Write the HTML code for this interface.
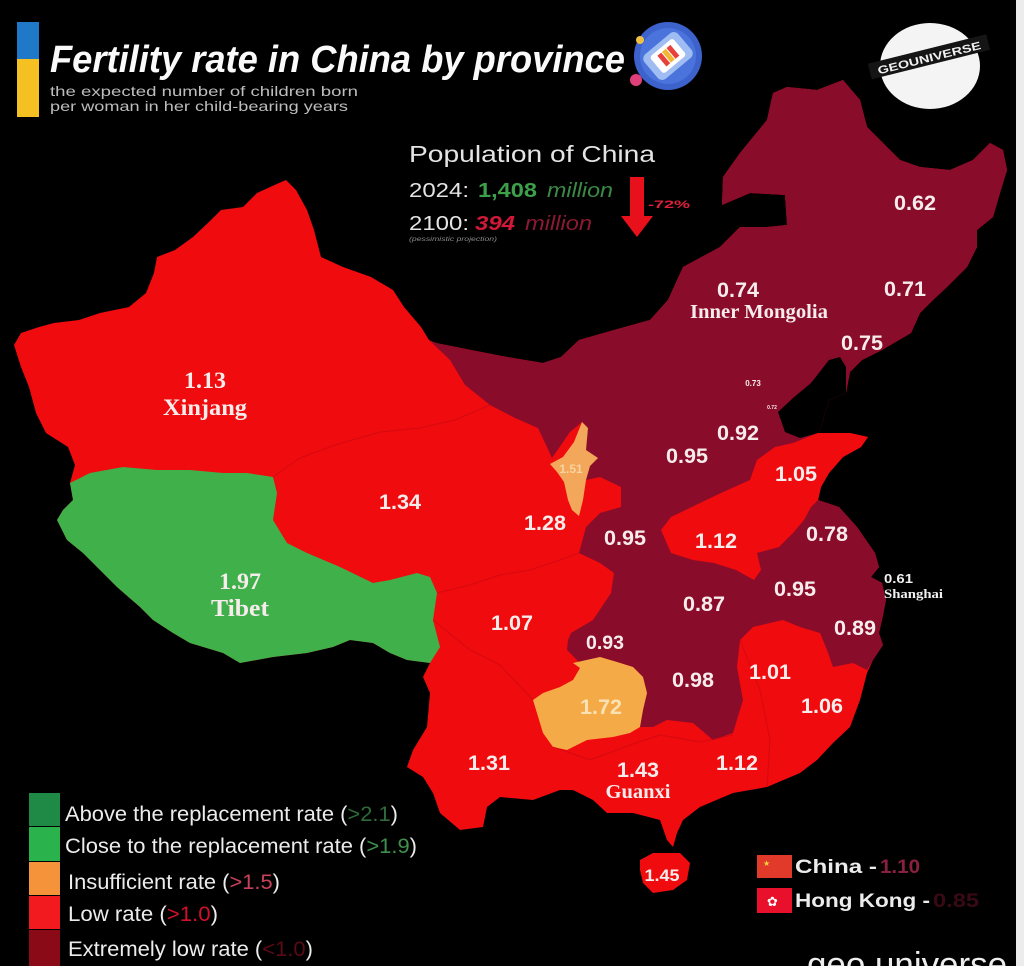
<!DOCTYPE html>
<html><head><meta charset="utf-8"><style>
html,body{margin:0;padding:0;background:#000;}
svg{display:block;}
.n{font-family:"Liberation Sans",Arial,sans-serif;font-weight:bold;fill:#f6ecec;text-anchor:middle;}
.s{font-family:"Liberation Serif",serif;font-weight:bold;fill:#f6ecec;text-anchor:middle;}
.lg{font-family:"Liberation Sans",Arial,sans-serif;fill:#ececec;}
</style></head><body>
<svg width="1024" height="966" viewBox="0 0 1024 966" xmlns="http://www.w3.org/2000/svg">
<rect x="0" y="0" width="1024" height="966" fill="#000"/>
<rect x="1016" y="0" width="8" height="966" fill="#ececec"/>

<!-- China outline (red base) -->
<polygon fill="#f00b0e" points="14,345 21,333 39,327 54,323 79,320 100,313 129,307 146,293 154,273 157,257 175,250 193,237 211,220 221,210 243,207 257,193 279,183 286,180 296,190 307,210 314,230 321,257 343,267 371,277 393,290 404,307 421,327 429,340 436,343 471,350 507,357 543,363 561,357 579,340 614,330 650,320 668,300 683,267 720,247 740,227 767,227 787,225 785,195 750,193 722,205 723,177 740,153 767,120 773,93 787,87 817,90 843,80 860,100 867,127 883,143 900,160 920,167 950,170 973,160 990,143 1003,150 1007,170 1000,193 993,217 977,230 977,247 967,267 947,287 933,300 920,313 911,333 882,350 862,360 850,372 846,393 829,400 821,427 818,433 850,433 868,437 861,447 843,457 829,473 821,487 818,500 839,507 857,527 875,553 879,567 871,577 882,583 886,600 882,620 879,633 883,645 873,660 867,673 860,700 850,727 833,743 817,760 800,773 767,787 733,793 700,807 683,820 677,833 673,847 667,840 660,820 633,813 607,813 593,800 573,790 560,790 533,800 500,797 487,807 483,827 460,830 440,813 433,793 423,777 407,767 413,750 427,727 430,693 423,677 430,663 407,660 390,653 373,643 350,640 333,647 307,653 273,657 240,663 223,653 190,643 173,633 153,620 140,607 117,587 100,570 83,553 67,540 57,520 63,510 73,500 70,483 75,465 68,447 46,433 36,413 29,387 21,367"/>

<!-- dark red region -->
<polygon fill="#8a0c2b" points="429,340 436,343 471,350 507,357 543,363 561,357 579,340 614,330 650,320 668,300 683,267 720,247 740,227 767,227 787,225 785,195 750,193 722,205 723,177 740,153 767,120 773,93 787,87 817,90 843,80 860,100 867,127 883,143 900,160 920,167 950,170 973,160 990,143 1003,150 1007,170 1000,193 993,217 977,230 977,247 967,267 947,287 933,300 920,313 911,333 882,350 862,360 850,372 846,393 829,400 821,427 818,433 850,433 868,437 861,447 843,457 829,473 821,487 818,500 839,507 857,527 875,553 879,567 871,577 882,583 886,600 882,620 879,633 883,645 873,660 867,670 853,663 833,667 827,650 820,633 800,627 783,620 753,627 740,640 737,667 743,700 733,733 713,740 693,723 667,720 653,727 640,727 643,710 647,693 643,677 633,667 617,662 600,657 580,663 567,650 568,640 571,633 593,620 611,593 614,573 600,563 579,553 586,527 600,513 621,507 621,487 600,477 586,480 586,450 587,427 582,422 570,432 552,458 546,445 538,428 515,418 490,405 465,385 450,360"/>

<!-- Henan + Shandong red -->
<polygon fill="#f00b0e" points="818,433 850,433 868,437 861,447 843,457 829,473 821,487 818,500 811,507 804,520 793,533 779,547 757,553 761,570 754,580 736,570 714,563 693,560 671,553 661,530 671,517 700,503 721,493 750,480 757,460 775,447 793,443"/>

<!-- Bohai sea -->
<polygon fill="#000" points="778,412 793,398 811,383 829,360 840,357 846,367 846,393 829,400 821,427 818,433 800,438 785,432"/>

<!-- Tibet green -->
<polygon fill="#3fb04a" points="70,483 90,473 123,467 157,470 190,470 223,473 247,473 273,477 277,493 273,520 287,543 307,553 340,567 373,583 390,580 417,573 430,577 437,593 433,620 440,647 430,663 407,660 390,653 373,643 350,640 333,647 307,653 273,657 240,663 223,653 190,643 173,633 153,620 140,607 117,587 100,570 83,553 67,540 57,520 63,510 73,500"/>

<!-- Ningxia orange -->
<polygon fill="#f3a75a" points="582,422 588,428 586,450 598,458 590,466 586,480 583,500 579,516 572,510 568,500 564,482 557,472 550,464 563,457 574,442"/>
<!-- Guizhou orange -->
<polygon fill="#f5aa48" points="573,663 600,657 617,662 633,667 643,677 647,693 643,710 640,727 630,733 613,737 587,740 567,750 553,747 543,733 533,700 543,693 560,687 573,680 580,668"/>

<!-- Hainan -->
<polygon fill="#f00b0e" points="640,860 653,853 680,853 690,863 687,880 673,890 653,893 643,883 640,870"/>

<!-- faint internal borders -->
<g fill="none" stroke="#c20a12" stroke-width="1" opacity="0.6">
<polyline points="273,477 300,458 335,445 380,432 420,428 455,420 490,405"/>
<polyline points="437,593 470,585 500,575 530,570 560,560 579,553"/>
<polyline points="433,620 470,650 500,665 533,700"/>
<polyline points="553,747 590,760 630,745 660,735 700,742 733,735"/>
<polyline points="740,640 760,690 770,740 767,787"/>
</g>

<!-- Title -->
<rect x="17" y="22" width="22" height="37" fill="#1f78c8"/>
<rect x="17" y="59" width="22" height="58" fill="#f5c021"/>
<text x="50" y="72" font-family="Liberation Sans, sans-serif" font-weight="bold" font-style="italic" font-size="38" fill="#fafafa" textLength="575" lengthAdjust="spacingAndGlyphs">Fertility rate in China by province</text>
<text x="50" y="96" class="lg" font-size="14" fill="#bdbdbd" textLength="308" lengthAdjust="spacingAndGlyphs" style="fill:#bdbdbd">the expected number of children born</text>
<text x="50" y="111" class="lg" font-size="14" textLength="298" lengthAdjust="spacingAndGlyphs" style="fill:#bdbdbd">per woman in her child-bearing years</text>

<!-- title icon -->
<circle cx="668" cy="56" r="34" fill="#3d62cc"/>
<circle cx="668" cy="56" r="28" fill="#4a74dc"/>
<g transform="rotate(-40 668 56)">
<rect x="646" y="40" width="44" height="32" rx="6" fill="#9fbdf2"/>
<rect x="653" y="45" width="30" height="22" rx="3" fill="#ffffff"/>
<rect x="660" y="49" width="5" height="14" fill="#e8403a"/>
<rect x="666" y="49" width="5" height="14" fill="#f3b830"/>
<rect x="672" y="49" width="5" height="14" fill="#e8403a"/>
</g>
<circle cx="636" cy="80" r="6" fill="#e0407a"/>
<circle cx="640" cy="40" r="4" fill="#f0c040"/>

<!-- logo -->
<ellipse cx="930" cy="66" rx="50" ry="43" fill="#f4f4f4"/>
<g transform="rotate(-14 928 57)">
<rect x="868" y="49" width="122" height="16" fill="#151515"/>
<text x="929" y="62" font-family="Liberation Sans, sans-serif" font-weight="bold" font-size="11" fill="#f0f0f0" text-anchor="middle" textLength="106" lengthAdjust="spacingAndGlyphs">GEOUNIVERSE</text>
</g>

<!-- population -->
<text x="409" y="162" class="lg" font-size="23" style="fill:#e4e4e4" textLength="246" lengthAdjust="spacingAndGlyphs">Population of China</text>
<text x="409" y="197" class="lg" font-size="20" style="fill:#e4e4e4" textLength="60" lengthAdjust="spacingAndGlyphs">2024:</text>
<text x="478" y="197" font-family="Liberation Sans, sans-serif" font-weight="bold" font-size="20" fill="#3ca04a" textLength="59" lengthAdjust="spacingAndGlyphs">1,408</text>
<text x="547" y="197" font-family="Liberation Sans, sans-serif" font-style="italic" font-size="20" fill="#3a8a46" textLength="66" lengthAdjust="spacingAndGlyphs">million</text>
<text x="409" y="230" class="lg" font-size="20" style="fill:#e4e4e4" textLength="60" lengthAdjust="spacingAndGlyphs">2100:</text>
<text x="475" y="230" font-family="Liberation Sans, sans-serif" font-weight="bold" font-style="italic" font-size="20" fill="#d01838" textLength="40" lengthAdjust="spacingAndGlyphs">394</text>
<text x="525" y="230" font-family="Liberation Sans, sans-serif" font-style="italic" font-size="20" fill="#8a1a32" textLength="67" lengthAdjust="spacingAndGlyphs">million</text>
<text x="409" y="241" font-family="Liberation Sans, sans-serif" font-style="italic" font-size="6" fill="#8a8a8a" textLength="88" lengthAdjust="spacingAndGlyphs">(pessimistic projection)</text>
<rect x="630" y="177" width="14" height="43" fill="#e8101a"/>
<polygon points="621,216 653,216 637,237" fill="#e8101a"/>
<text x="648" y="208" font-family="Liberation Sans, sans-serif" font-weight="bold" font-size="11" fill="#e0203a" textLength="42" lengthAdjust="spacingAndGlyphs">-72%</text>

<!-- map labels -->
<text class="n" x="915" y="210" font-size="21" textLength="42" lengthAdjust="spacingAndGlyphs">0.62</text>
<text class="n" x="905" y="296" font-size="21" textLength="42" lengthAdjust="spacingAndGlyphs">0.71</text>
<text class="n" x="738" y="297" font-size="21" textLength="42" lengthAdjust="spacingAndGlyphs">0.74</text>
<text class="s" x="759" y="318" font-size="20" textLength="138" lengthAdjust="spacingAndGlyphs">Inner Mongolia</text>
<text class="n" x="862" y="350" font-size="21" textLength="42" lengthAdjust="spacingAndGlyphs">0.75</text>
<text class="n" x="753" y="386" font-size="8">0.73</text>
<text class="n" x="772" y="409" font-size="5">0.72</text>
<text class="n" x="738" y="440" font-size="21" textLength="42" lengthAdjust="spacingAndGlyphs">0.92</text>
<text class="n" x="687" y="463" font-size="21" textLength="42" lengthAdjust="spacingAndGlyphs">0.95</text>
<text class="n" x="796" y="481" font-size="21" textLength="42" lengthAdjust="spacingAndGlyphs">1.05</text>
<text class="n" x="571" y="473" font-size="12" style="fill:#f9d3a0">1.51</text>
<text class="s" x="205" y="388" font-size="23" textLength="42" lengthAdjust="spacingAndGlyphs">1.13</text>
<text class="s" x="205" y="415" font-size="23" textLength="84" lengthAdjust="spacingAndGlyphs">Xinjang</text>
<text class="n" x="400" y="509" font-size="21" textLength="42" lengthAdjust="spacingAndGlyphs">1.34</text>
<text class="n" x="545" y="530" font-size="21" textLength="42" lengthAdjust="spacingAndGlyphs">1.28</text>
<text class="n" x="625" y="545" font-size="21" textLength="42" lengthAdjust="spacingAndGlyphs">0.95</text>
<text class="n" x="716" y="548" font-size="21" textLength="42" lengthAdjust="spacingAndGlyphs">1.12</text>
<text class="n" x="827" y="541" font-size="21" textLength="42" lengthAdjust="spacingAndGlyphs">0.78</text>
<text x="884" y="583" font-family="Liberation Sans, sans-serif" font-weight="bold" font-size="13" fill="#f0f0f0" textLength="29" lengthAdjust="spacingAndGlyphs">0.61</text>
<text x="884" y="598" font-family="Liberation Serif, serif" font-weight="bold" font-size="13" fill="#f0f0f0" textLength="59" lengthAdjust="spacingAndGlyphs">Shanghai</text>
<text class="s" x="240" y="589" font-size="23" textLength="42" lengthAdjust="spacingAndGlyphs">1.97</text>
<text class="s" x="240" y="616" font-size="24" textLength="58" lengthAdjust="spacingAndGlyphs">Tibet</text>
<text class="n" x="795" y="596" font-size="21" textLength="42" lengthAdjust="spacingAndGlyphs">0.95</text>
<text class="n" x="704" y="611" font-size="21" textLength="42" lengthAdjust="spacingAndGlyphs">0.87</text>
<text class="n" x="855" y="635" font-size="21" textLength="42" lengthAdjust="spacingAndGlyphs">0.89</text>
<text class="n" x="512" y="630" font-size="21" textLength="42" lengthAdjust="spacingAndGlyphs">1.07</text>
<text class="n" x="605" y="649" font-size="19" textLength="38" lengthAdjust="spacingAndGlyphs">0.93</text>
<text class="n" x="770" y="679" font-size="21" textLength="42" lengthAdjust="spacingAndGlyphs">1.01</text>
<text class="n" x="693" y="687" font-size="21" textLength="42" lengthAdjust="spacingAndGlyphs">0.98</text>
<text class="n" x="601" y="714" font-size="21" textLength="42" lengthAdjust="spacingAndGlyphs" style="fill:#fbe2b4">1.72</text>
<text class="n" x="822" y="713" font-size="21" textLength="42" lengthAdjust="spacingAndGlyphs">1.06</text>
<text class="n" x="489" y="770" font-size="21" textLength="42" lengthAdjust="spacingAndGlyphs">1.31</text>
<text class="n" x="638" y="777" font-size="21" textLength="42" lengthAdjust="spacingAndGlyphs">1.43</text>
<text class="s" x="638" y="798" font-size="20" textLength="65" lengthAdjust="spacingAndGlyphs">Guanxi</text>
<text class="n" x="737" y="770" font-size="21" textLength="42" lengthAdjust="spacingAndGlyphs">1.12</text>
<text class="n" x="662" y="881" font-size="17" textLength="35" lengthAdjust="spacingAndGlyphs">1.45</text>

<!-- legend -->
<rect x="29" y="793" width="31" height="33" fill="#1e8a45"/>
<rect x="29" y="827" width="31" height="34" fill="#2ab34c"/>
<rect x="29" y="862" width="31" height="33" fill="#f5933a"/>
<rect x="29" y="896" width="31" height="33" fill="#f21a1e"/>
<rect x="29" y="930" width="31" height="36" fill="#8a0a18"/>
<text x="65" y="821" class="lg" font-size="21" textLength="333" lengthAdjust="spacingAndGlyphs">Above the replacement rate (<tspan fill="#2e6b3a">&gt;2.1</tspan>)</text>
<text x="65" y="853" class="lg" font-size="21" textLength="352" lengthAdjust="spacingAndGlyphs">Close to the replacement rate (<tspan fill="#3f8f4e">&gt;1.9</tspan>)</text>
<text x="68" y="889" class="lg" font-size="21" textLength="212" lengthAdjust="spacingAndGlyphs">Insufficient rate (<tspan fill="#c8405a">&gt;1.5</tspan>)</text>
<text x="68" y="921" class="lg" font-size="21" textLength="150" lengthAdjust="spacingAndGlyphs">Low rate (<tspan fill="#d0102a">&gt;1.0</tspan>)</text>
<text x="68" y="956" class="lg" font-size="21" textLength="245" lengthAdjust="spacingAndGlyphs">Extremely low rate (<tspan fill="#5a0a14">&lt;1.0</tspan>)</text>

<!-- China / HK -->
<rect x="757" y="855" width="35" height="23" fill="#e23a2a"/>
<text x="763" y="866" font-size="8" fill="#f6d23a" font-family="DejaVu Sans, sans-serif">★</text>
<text x="795" y="873" font-family="Liberation Sans, sans-serif" font-weight="bold" font-size="19" fill="#ececec" textLength="82" lengthAdjust="spacingAndGlyphs">China -</text>
<text x="880" y="873" font-family="Liberation Sans, sans-serif" font-weight="bold" font-size="19" fill="#8a2040" textLength="40" lengthAdjust="spacingAndGlyphs">1.10</text>
<rect x="757" y="888" width="35" height="25" fill="#e8102a"/>
<text x="767" y="906" font-size="13" fill="#ffffff" font-family="DejaVu Sans, sans-serif">✿</text>
<text x="795" y="907" font-family="Liberation Sans, sans-serif" font-weight="bold" font-size="19" fill="#ececec" textLength="135" lengthAdjust="spacingAndGlyphs">Hong Kong -</text>
<text x="933" y="907" font-family="Liberation Sans, sans-serif" font-weight="bold" font-size="19" fill="#3a0a14" textLength="46" lengthAdjust="spacingAndGlyphs">0.85</text>

<text x="807" y="976" font-family="Liberation Sans, sans-serif" font-size="34" fill="#eeeeee" textLength="200" lengthAdjust="spacingAndGlyphs">geo universe</text>
</svg>
</body></html>
